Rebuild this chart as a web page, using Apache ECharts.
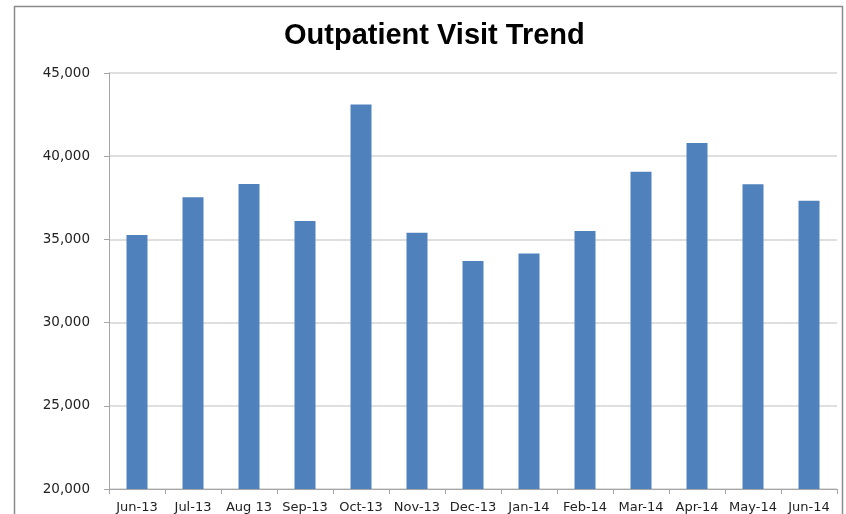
<!DOCTYPE html>
<html>
<head>
<meta charset="utf-8">
<script src="https://cdn.jsdelivr.net/npm/echarts@6/dist/echarts.min.js"></script>
<style>
  html, body { margin: 0; padding: 0; background: #fff; }
  #chart { width: 846px; height: 514px; }
</style>
</head>
<body>
<div id="chart"></div>
<script>
const months = ['Jun-13', 'Jul-13', 'Aug 13', 'Sep-13', 'Oct-13', 'Nov-13', 'Dec-13',
                'Jan-14', 'Feb-14', 'Mar-14', 'Apr-14', 'May-14', 'Jun-14'];
const visits = [35260, 37530, 38330, 36100, 43100, 35400, 33700,
                34160, 35500, 39070, 40790, 38310, 37330];
const yMin = 20000;
const yMax = 45000;
const yStep = 5000;

const chart = echarts.init(document.getElementById('chart'));

const option = {
    animation: false,
    backgroundColor: '#fff',
    title: {
        text: 'Outpatient Visit Trend',
        left: 279,
        top: 16,
        textStyle: {
            fontFamily: 'Liberation Sans, Arial, sans-serif',
            fontSize: 29,
            fontWeight: 'bold',
            color: '#000'
        }
    },
    graphic: [
        {
            type: 'rect',
            silent: true,
            shape: { x: 14.5, y: 6.5, width: 828, height: 530 },
            style: { fill: 'none', stroke: '#8c8c8c', lineWidth: 1.5 }
        }
    ],
    grid: {
        left: 109,
        right: 9,
        top: 73,
        bottom: 25
    },
    xAxis: {
        type: 'category',
        data: months,
        axisLine: { lineStyle: { color: '#a6a6a6', width: 1 } },
        axisTick: { show: true, length: 5, lineStyle: { color: '#a6a6a6' } },
        axisLabel: {
            margin: 12,
            interval: 0,
            fontFamily: 'DejaVu Sans, sans-serif',
            fontSize: 13,
            color: '#222'
        }
    },
    yAxis: {
        type: 'value',
        min: yMin,
        max: yMax,
        interval: yStep,
        axisLine: { show: true, lineStyle: { color: '#a6a6a6', width: 1 } },
        axisTick: { show: true, length: 5, lineStyle: { color: '#a6a6a6' } },
        splitLine: { lineStyle: { color: '#d4d4d4', width: 1.5 } },
        axisLabel: {
            margin: 19,
            fontFamily: 'DejaVu Sans, sans-serif',
            fontSize: 13.5,
            color: '#222',
            formatter: v => v.toLocaleString('en-US')
        }
    },
    series: [
        {
            type: 'bar',
            data: visits,
            barWidth: 21,
            itemStyle: { color: '#4f81bd' }
        }
    ]
};

chart.setOption(option);
</script>
</body>
</html>
